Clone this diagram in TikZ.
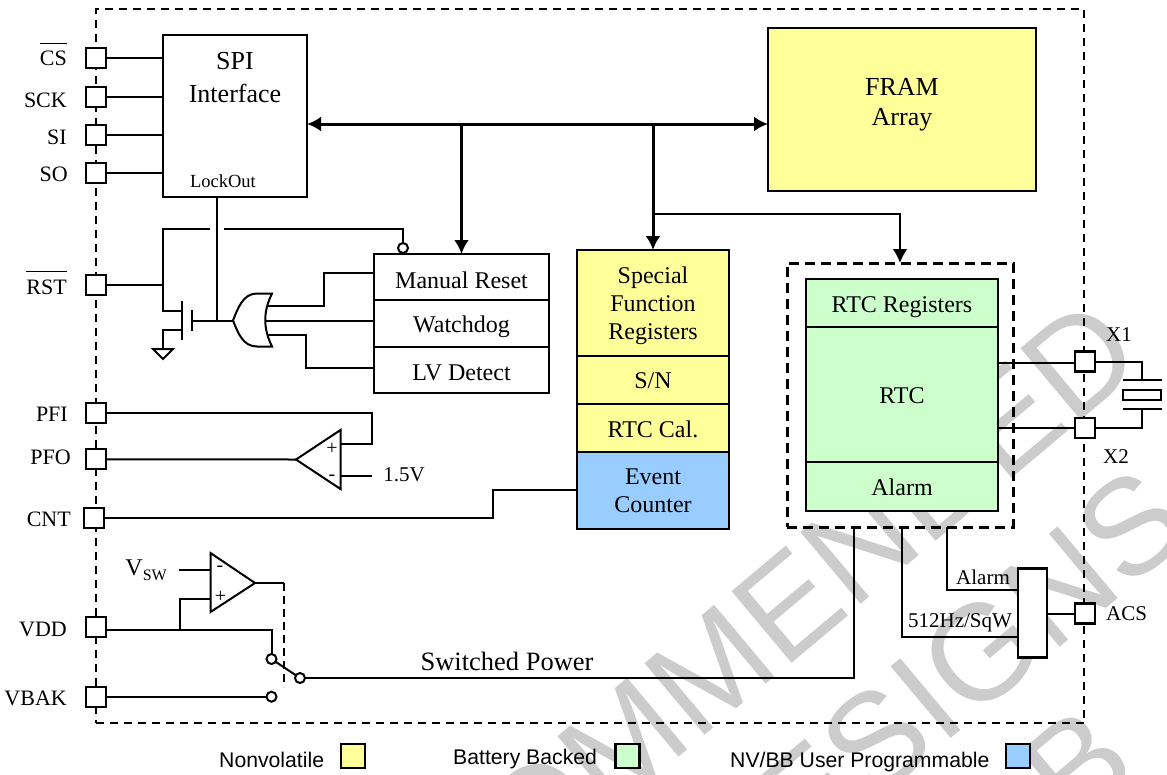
\documentclass[tikz,border=0pt]{standalone}
\usepackage{fontspec}
\setmainfont{Liberation Serif}
\newfontfamily\legendfont{Liberation Sans}
\usepackage{tikz}
\usetikzlibrary{arrows.meta, positioning, shapes.geometric}

\definecolor{nvyellow}{HTML}{FFFF99}
\definecolor{bbgreen}{HTML}{CCFFCC}
\definecolor{upblue}{HTML}{99CCFF}
\definecolor{wmgray}{HTML}{CCCCCC}

\newcommand{\barred}[1]{\leavevmode\vbox{\hrule height 1.3pt\vskip 7pt\hbox{#1}}}

\tikzset{
  wire/.style={line width=2pt},
  bus/.style={line width=3pt},
  block/.style={draw, line width=2.2pt, inner sep=0pt, outer sep=0pt},
  blocktxt/.style={inner sep=0pt, align=center, font=\fontsize{24}{28}\selectfont},
  pinbox/.style={draw, fill=white, line width=2.2pt, inner sep=0pt, outer sep=0pt, minimum size=20pt},
  pinlbl/.style={inner sep=0pt, font=\fontsize{22}{26}\selectfont},
  smalltxt/.style={inner sep=0pt, font=\fontsize{21}{25}\selectfont},
  signtxt/.style={inner sep=0pt, font=\fontsize{20}{24}\selectfont},
  bubble/.style={draw, circle, fill=white, line width=2pt, inner sep=0pt, outer sep=0pt, minimum size=10pt},
  legendbox/.style={draw, line width=2.5pt, inner sep=0pt, outer sep=0pt, minimum size=24pt},
  legendtxt/.style={inner sep=0pt, anchor=base west, font=\legendfont\fontsize{21.2}{25}\selectfont},
  watermark/.style={inner sep=0pt, anchor=base east, rotate=40, text=wmgray,
    font=\legendfont\fontsize{136}{136}\selectfont},
}

\begin{document}
\begin{tikzpicture}[x=1pt,y=-1pt,>={Latex[length=14pt,width=15pt]}]
  \useasboundingbox (0,0) rectangle (1167,774);

  % watermark
  \begin{scope}
    \clip (0,0) rectangle (1167,774);
    \node[watermark] (wma) at (1148,364) {RECOMMENDED};
    \node[watermark] (wmb) at (1196,533) {DESIGNS};
    \node[watermark] (wmc) at (1142,772) {B};
  \end{scope}

  % chip outline
  \node[draw, line width=2pt, dash pattern=on 8pt off 6pt, inner sep=0pt,
    minimum width=988.3pt, minimum height=714.3pt] (chip) at (589.85,366.15) {};

  % main blocks
  \node[block, minimum width=144pt, minimum height=162pt] (spi) at (235,116) {};
  \node[inner sep=0pt, align=center, font=\fontsize{26}{33}\selectfont] (spitxt) at (235,78) {SPI\\Interface};
  \node[inner sep=0pt, font=\fontsize{18.5}{22}\selectfont] (lockout) at (223,181) {LockOut};
  \node[block, fill=nvyellow, minimum width=268pt, minimum height=163pt] (fram) at (902,109.5) {};
  \node[blocktxt, font=\fontsize{26}{30}\selectfont] (framtxt) at (902,104.5) {FRAM\\Array};

  % reset stack
  \node[block, minimum width=175pt, minimum height=46pt] (manrst) at (461.5,277) {};
  \node[block, minimum width=175pt, minimum height=47pt] (wdog) at (461.5,323.5) {};
  \node[block, minimum width=175pt, minimum height=46pt] (lvdet) at (461.5,370) {};
  \node[blocktxt] (manrsttxt) at (461.5,280) {Manual Reset};
  \node[blocktxt] (wdogtxt) at (461.5,326.5) {Watchdog};
  \node[blocktxt] (lvdettxt) at (461.5,373) {LV Detect};

  % register stack
  \node[block, fill=nvyellow, minimum width=152pt, minimum height=106pt] (sfr) at (653,303) {};
  \node[block, fill=nvyellow, minimum width=152pt, minimum height=48pt] (sn) at (653,380) {};
  \node[block, fill=nvyellow, minimum width=152pt, minimum height=48pt] (rtccal) at (653,428) {};
  \node[block, fill=upblue, minimum width=152pt, minimum height=77pt] (evcnt) at (653,490.5) {};
  \node[blocktxt] (sfrtxt) at (653,306) {Special\\Function\\Registers};
  \node[blocktxt] (sntxt) at (653,381) {S/N};
  \node[blocktxt] (rtccaltxt) at (653,429) {RTC Cal.};
  \node[blocktxt] (evcnttxt) at (653,491) {Event\\Counter};

  % RTC stack
  \node[draw, line width=3pt, dash pattern=on 10pt off 6pt, inner sep=0pt, outer sep=0pt,
    minimum width=226pt, minimum height=264pt] (rtcbox) at (900,395) {};
  \node[block, fill=bbgreen, minimum width=192pt, minimum height=48pt] (rtcreg) at (902,303) {};
  \node[block, fill=bbgreen, minimum width=192pt, minimum height=135pt] (rtc) at (902,394.5) {};
  \node[block, fill=bbgreen, minimum width=192pt, minimum height=49pt] (alarm) at (902,486.5) {};
  \node[blocktxt] (rtcregtxt) at (902,307) {RTC Registers};
  \node[blocktxt] (rtctxt) at (902,395.5) {RTC};
  \node[blocktxt] (alarmtxt) at (902,487.5) {Alarm};
  \node[block, fill=white, minimum width=29pt, minimum height=89pt] (mux) at (1032.5,613) {};

  % pins
  \foreach \pinname/\pinx/\piny/\lblx/\lbly/\pintxt in {cs/95.7/58.3/67/65.7/\barred{CS}, sck/95.7/96.7/67/107/SCK,
      si/95.7/135.3/67/144/SI, so/95.7/172.8/68/181.7/SO, rst/95.7/285/67/294/\barred{RST}, pfi/95.7/413.3/68/421.7/PFI,
      pfo/95.7/459.3/71/464/PFO, cnt/94/518/71/526/CNT, vdd/95.7/626.7/67/636/VDD, vbak/95.7/696.7/67/705.7/VBAK} {
    \node[pinbox] (pin\pinname) at (\pinx,\piny) {};
    \node[pinlbl, anchor=base east] (lbl\pinname) at (\lblx,\lbly) {\pintxt};
  }
  \node[pinbox] (pinxa) at (1084.7,361.5) {};
  \node[pinbox] (pinxb) at (1084.7,428) {};
  \node[pinbox] (pinacs) at (1084.7,613.5) {};
  \node[smalltxt] (lblxa) at (1119,335) {X1};
  \node[smalltxt] (lblxb) at (1116,457) {X2};
  \node[smalltxt] (lblacs) at (1126.5,614) {ACS};

  % bus
  \coordinate (busl) at (spi.east |- 0,124);
  \coordinate (tap) at (sfr.north |- 0,214);
  \draw[bus,<->] (busl) -- (busl -| fram.west);
  \draw[bus,->] (busl -| manrst) -- (manrst.north);
  \draw[bus,->] (busl -| sfr) -- (sfr.north);
  \draw[wire,->] (tap) -| (rtcbox.north);

  % spi side
  \foreach \pinname in {cs,sck,si,so}
    \draw[wire] (pin\pinname.east) -- (pin\pinname.east -| spi.west);

  % reset logic
  \coordinate (rsttop) at (163,229);
  \coordinate (gapa) at (210,229);
  \coordinate (gapb) at (224,229);
  \coordinate (fetd) at (182,311);
  \coordinate (fets) at (182,330);
  \coordinate (fetg) at (191.5,320.5);
  \coordinate (orgtip) at (233,320.5);
  \node[bubble] (rstbub) at (403,248) {};
  \draw[wire] (pinrst.east) -- (pinrst.east -| rsttop);
  \draw[wire] (gapa) -- (rsttop) -- (rsttop |- fetd) -- (fetd);
  \draw[wire] (gapb) -| (rstbub.north);
  \draw[wire] (182,300.5) -- (182,340);
  \draw[wire] (191.5,310) -- (191.5,331);
  \draw[wire] (fets) -- (163,330) -- (163,349);
  \draw[wire] (153,349) -- (173,349) -- (163,359) -- cycle;
  \draw[wire] (fetg) -- (orgtip);
  \draw[wire] (spi.south -| 217,0) -- (217,320.5);
  \draw[wire] (272,293.5) -- (257,293.5) .. controls (243,293.5) and (238,308) .. (orgtip)
    .. controls (238,333) and (243,346.5) .. (257,346.5) -- (272,346.5)
    .. controls (263,328) and (263,312) .. cycle;
  \draw[wire] (267.5,306) -| (324,273) -- (324,273 -| manrst.west);
  \draw[wire] (265.5,320.5) -- (265.5,320.5 -| wdog.west);
  \draw[wire] (267.5,335) -| (306,368) -- (306,368 -| lvdet.west);

  % power fail comparator
  \coordinate (pcmpa) at (340.5,430);
  \coordinate (pcmpb) at (340.5,489);
  \coordinate (pcmptip) at (296,459.5);
  \draw[wire] (pcmpa) -- (pcmpb) -- (pcmptip) -- cycle;
  \node[signtxt] (pcmpplus) at (332,449) {+};
  \node[signtxt] (pcmpminus) at (332,478) {-};
  \draw[wire] (pinpfi.east) -- (371.5,413.3) -- (371.5,444) -- (340.5,444);
  \draw[wire] (pinpfo.east) -- (pcmptip);
  \node[smalltxt] (refv) at (404,475) {1.5V};
  \draw[wire] (340.5,476) -- (372,476);

  % event counter
  \draw[wire] (pincnt.east) -- (493,518) -- (493,490) -- (490,490 -| evcnt.west);

  % power switch
  \coordinate (vcmpa) at (210.5,553);
  \coordinate (vcmpb) at (210.5,612);
  \coordinate (vcmptip) at (255,583);
  \coordinate (vddr) at (105.7,629.5);
  \draw[wire] (vcmpa) -- (vcmpb) -- (vcmptip) -- cycle;
  \node[signtxt] (vcmpminus) at (220,569) {-};
  \node[signtxt] (vcmpplus) at (220.5,597) {+};
  \node[inner sep=0pt, anchor=base east, font=\fontsize{24}{28}\selectfont] (vsw) at (167,575)
    {V\raisebox{-5pt}{\fontsize{16}{20}\selectfont SW}};
  \draw[wire] (179,570) -- (210.5,570);
  \draw[wire] (210.5,599) -- (180,599) -- (180,629.5);
  \node[bubble] (swvdd) at (271.5,659) {};
  \node[bubble] (swbak) at (271.5,696.7) {};
  \node[bubble] (swout) at (300,678) {};
  \draw[wire] (vddr) -| (swvdd.north);
  \draw[wire] (pinvbak.east) -- (swbak.west);
  \draw[wire] (swvdd) -- (swout);
  \draw[wire] (vcmptip) -- (284,583);
  \draw[wire, dash pattern=on 8pt off 5pt] (284,583) -- (284,687);
  \draw[wire] (swout.east) -- (854,678) -- (854,527);
  \node[inner sep=0pt, font=\fontsize{26.5}{30}\selectfont] (swpower) at (507,661) {Switched Power};

  % crystal
  \coordinate (xtalt) at (1142,380);
  \coordinate (xtalb) at (1142,409);
  \draw[wire] (998,363) -- (pinxa.west |- 0,363);
  \draw[wire] (998,428) -- (pinxb.west);
  \draw[wire] (pinxa.east) -| (xtalt);
  \draw[wire] (pinxb.east) -| (xtalb);
  \draw[wire] (1123,380) -- (1162,380);
  \draw[wire] (1123,409) -- (1162,409);
  \node[draw, line width=2pt, fill=white, inner sep=0pt, minimum width=38pt, minimum height=10pt] (xtal) at (1142,395) {};

  % alarm output
  \draw[wire] (947,527) -- (947,590) -- (947,590 -| mux.west);
  \draw[wire] (902,527) -- (902,637) -- (902,637 -| mux.west);
  \draw[wire] (mux.east |- pinacs) -- (pinacs.west);
  \node[smalltxt] (lblalarm) at (983,577) {Alarm};
  \node[smalltxt] (lblsqw) at (960,623) {512Hz/SqW};

  % legend
  \node[legendtxt] (lgnv) at (219,767) {Nonvolatile};
  \node[legendbox, fill=nvyellow] (boxnv) at (353,756) {};
  \node[legendtxt] (lgbb) at (453,764) {Battery Backed};
  \node[legendbox, fill=bbgreen] (boxbb) at (627.5,756) {};
  \node[legendtxt] (lgup) at (730,767) {NV/BB User Programmable};
  \node[legendbox, fill=upblue] (boxup) at (1018,756) {};
\end{tikzpicture}
\end{document}
